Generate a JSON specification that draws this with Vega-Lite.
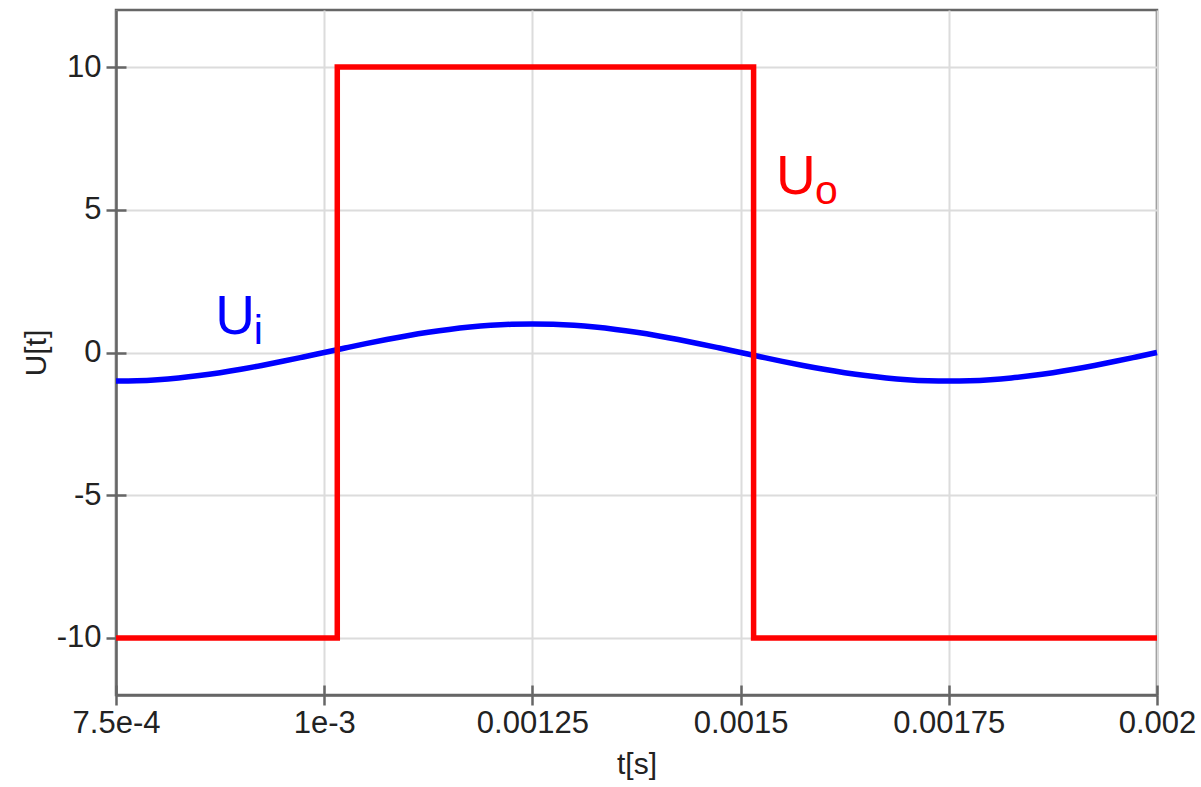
{
  "$schema": "https://vega.github.io/schema/vega-lite/v6.json",
  "width": 1041,
  "height": 685,
  "autosize": {"type": "none"},
  "padding": {"left": 116, "top": 10, "right": 44, "bottom": 92},
  "background": "white",
  "config": {
    "font": "Liberation Sans",
    "view": {"stroke": "#666", "strokeWidth": 2.5},
    "axis": {
      "domainColor": "#666",
      "domainWidth": 2.5,
      "tickColor": "#666",
      "tickWidth": 2.5,
      "tickSize": 10,
      "gridColor": "#dcdcdc",
      "gridWidth": 2,
      "labelFont": "Liberation Sans",
      "labelFontSize": 31,
      "labelColor": "#222",
      "titleFont": "Liberation Sans",
      "titleFontSize": 30,
      "titleFontWeight": "normal",
      "titleColor": "#222"
    }
  },
  "datasets": {
    "ui": [
      {"t": 0.00075, "u": -1}, {"t": 0.000775, "u": -0.988}, {"t": 0.0008, "u": -0.951},
      {"t": 0.000825, "u": -0.891}, {"t": 0.00085, "u": -0.809}, {"t": 0.000875, "u": -0.707},
      {"t": 0.0009, "u": -0.588}, {"t": 0.000925, "u": -0.454}, {"t": 0.00095, "u": -0.309},
      {"t": 0.000975, "u": -0.156}, {"t": 0.001, "u": 0}, {"t": 0.001025, "u": 0.156},
      {"t": 0.00105, "u": 0.309}, {"t": 0.001075, "u": 0.454}, {"t": 0.0011, "u": 0.588},
      {"t": 0.001125, "u": 0.707}, {"t": 0.00115, "u": 0.809}, {"t": 0.001175, "u": 0.891},
      {"t": 0.0012, "u": 0.951}, {"t": 0.001225, "u": 0.988}, {"t": 0.00125, "u": 1},
      {"t": 0.001275, "u": 0.988}, {"t": 0.0013, "u": 0.951}, {"t": 0.001325, "u": 0.891},
      {"t": 0.00135, "u": 0.809}, {"t": 0.001375, "u": 0.707}, {"t": 0.0014, "u": 0.588},
      {"t": 0.001425, "u": 0.454}, {"t": 0.00145, "u": 0.309}, {"t": 0.001475, "u": 0.156},
      {"t": 0.0015, "u": 0}, {"t": 0.001525, "u": -0.156}, {"t": 0.00155, "u": -0.309},
      {"t": 0.001575, "u": -0.454}, {"t": 0.0016, "u": -0.588}, {"t": 0.001625, "u": -0.707},
      {"t": 0.00165, "u": -0.809}, {"t": 0.001675, "u": -0.891}, {"t": 0.0017, "u": -0.951},
      {"t": 0.001725, "u": -0.988}, {"t": 0.00175, "u": -1}, {"t": 0.001775, "u": -0.988},
      {"t": 0.0018, "u": -0.951}, {"t": 0.001825, "u": -0.891}, {"t": 0.00185, "u": -0.809},
      {"t": 0.001875, "u": -0.707}, {"t": 0.0019, "u": -0.588}, {"t": 0.001925, "u": -0.454},
      {"t": 0.00195, "u": -0.309}, {"t": 0.001975, "u": -0.156}, {"t": 0.002, "u": 0}
    ],
    "uo": [
      {"i": 0, "t": 0.00075, "u": -10},
      {"i": 1, "t": 0.0010157, "u": -10},
      {"i": 2, "t": 0.0010157, "u": 10},
      {"i": 3, "t": 0.0015156, "u": 10},
      {"i": 4, "t": 0.0015156, "u": -10},
      {"i": 5, "t": 0.002, "u": -10}
    ],
    "labels": [
      {"series": "Ui", "part": "main", "text": "U", "t": 0.000893, "u": 0.65},
      {"series": "Ui", "part": "sub", "text": "i", "t": 0.000921, "u": 0.3},
      {"series": "Uo", "part": "main", "text": "U", "t": 0.0015665, "u": 5.57},
      {"series": "Uo", "part": "sub", "text": "o", "t": 0.001603, "u": 5.2}
    ]
  },
  "resolve": {"axis": {"x": "independent", "y": "independent"}},
  "layer": [
    {
      "data": {"name": "ui"},
      "mark": {"type": "line", "color": "#0000ff", "strokeWidth": 5.5, "interpolate": "monotone"},
      "encoding": {
        "x": {
          "field": "t", "type": "quantitative",
          "scale": {"domain": [0.00075, 0.002], "nice": false, "zero": false},
          "axis": {
            "orient": "bottom",
            "title": "t[s]",
            "values": [0.00075, 0.001, 0.00125, 0.0015, 0.00175, 0.002],
            "labelExpr": "['7.5e-4','1e-3','0.00125','0.0015','0.00175','0.002'][round((datum.value-0.00075)/0.00025)]",
            "labelFlush": false,
            "labelPadding": 3,
            "titlePadding": 11,
            "grid": true
          }
        },
        "y": {
          "field": "u", "type": "quantitative",
          "scale": {"domain": [-12, 12], "nice": false, "zero": false},
          "axis": {
            "orient": "left",
            "title": "U[t]",
            "values": [-10, -5, 0, 5, 10],
            "labelExpr": "'' + datum.value",
            "labelPadding": 5,
            "titlePadding": 5,
            "grid": true
          }
        }
      }
    },
    {
      "data": {"name": "uo"},
      "mark": {"type": "line", "color": "#ff0000", "strokeWidth": 5.5},
      "encoding": {
        "x": {
          "field": "t", "type": "quantitative",
          "axis": {
            "orient": "bottom", "offset": -10, "title": null, "labels": false,
            "domain": false, "grid": false,
            "values": [0.00075, 0.001, 0.00125, 0.0015, 0.00175, 0.002]
          }
        },
        "y": {
          "field": "u", "type": "quantitative",
          "axis": {
            "orient": "left", "offset": -10, "title": null, "labels": false,
            "domain": false, "grid": false,
            "values": [-10, -5, 0, 5, 10]
          }
        },
        "order": {"field": "i", "type": "quantitative"}
      }
    },
    {
      "data": {"name": "labels"},
      "transform": [{"filter": "datum.part === 'main'"}],
      "mark": {"type": "text", "fontSize": 55, "align": "center", "baseline": "alphabetic", "font": "Liberation Sans"},
      "encoding": {
        "x": {"field": "t", "type": "quantitative", "axis": null},
        "y": {"field": "u", "type": "quantitative", "axis": null},
        "text": {"field": "text"},
        "color": {
          "field": "series", "type": "nominal", "legend": null,
          "scale": {"domain": ["Ui", "Uo"], "range": ["#0000ff", "#ff0000"]}
        }
      }
    },
    {
      "data": {"name": "labels"},
      "transform": [{"filter": "datum.part === 'sub'"}],
      "mark": {"type": "text", "fontSize": 41, "align": "center", "baseline": "alphabetic", "font": "Liberation Sans"},
      "encoding": {
        "x": {"field": "t", "type": "quantitative", "axis": null},
        "y": {"field": "u", "type": "quantitative", "axis": null},
        "text": {"field": "text"},
        "color": {
          "field": "series", "type": "nominal", "legend": null,
          "scale": {"domain": ["Ui", "Uo"], "range": ["#0000ff", "#ff0000"]}
        }
      }
    }
  ]
}
